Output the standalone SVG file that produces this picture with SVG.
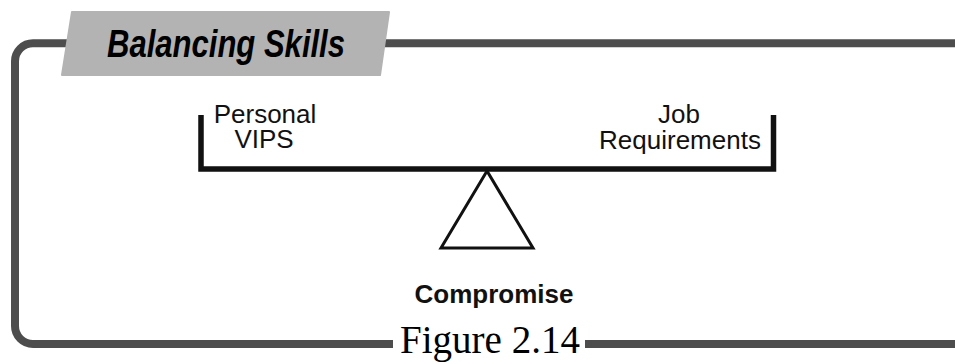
<svg xmlns="http://www.w3.org/2000/svg" width="955" height="364" viewBox="0 0 955 364">
<style>
.frame{fill:none;stroke:#4d4d4d;stroke-width:8}
.lbl{font-family:"Liberation Sans",Arial,sans-serif;font-size:26px;fill:#111;text-anchor:middle}
.scale{fill:none;stroke:#111}
</style>
<rect width="955" height="364" fill="#fff"/>
<g id="frame">
<path class="frame" d="M955 43.2 H33 A18 18 0 0 0 15 61.2 V326 A18 18 0 0 0 33 344 H393"/>
<path class="frame" d="M585 344 H955"/>
</g>
<g id="title">
<path d="M72 12 H389 L380 75 H62 Z" fill="#b3b3b3" stroke="#b3b3b3" stroke-width="2" stroke-linejoin="round"/>
<text x="107" y="57" font-family="Liberation Sans,Arial,sans-serif" font-size="39" font-weight="bold" font-style="italic" fill="#000" textLength="238" lengthAdjust="spacingAndGlyphs">Balancing Skills</text>
</g>
<g id="beam">
<path class="scale" stroke-width="5.5" d="M201 115 V169 H773.5 V115"/>
</g>
<g id="fulcrum">
<path class="scale" stroke-width="3" stroke-linejoin="miter" d="M487 171 L441 248 H533 Z"/>
</g>
<g id="personal">
<text class="lbl" x="265" y="123.3">Personal</text>
<text class="lbl" x="264" y="148.3">VIPS</text>
</g>
<g id="job">
<text class="lbl" x="679" y="123.3">Job</text>
<text class="lbl" x="680" y="149.3">Requirements</text>
</g>
<g id="compromise">
<text class="lbl" x="494" y="303" font-weight="bold">Compromise</text>
</g>
<g id="caption">
<text x="400" y="353" font-family="Liberation Serif,Times New Roman,serif" font-size="39" fill="#000" textLength="180" lengthAdjust="spacingAndGlyphs">Figure 2.14</text>
</g>
</svg>
